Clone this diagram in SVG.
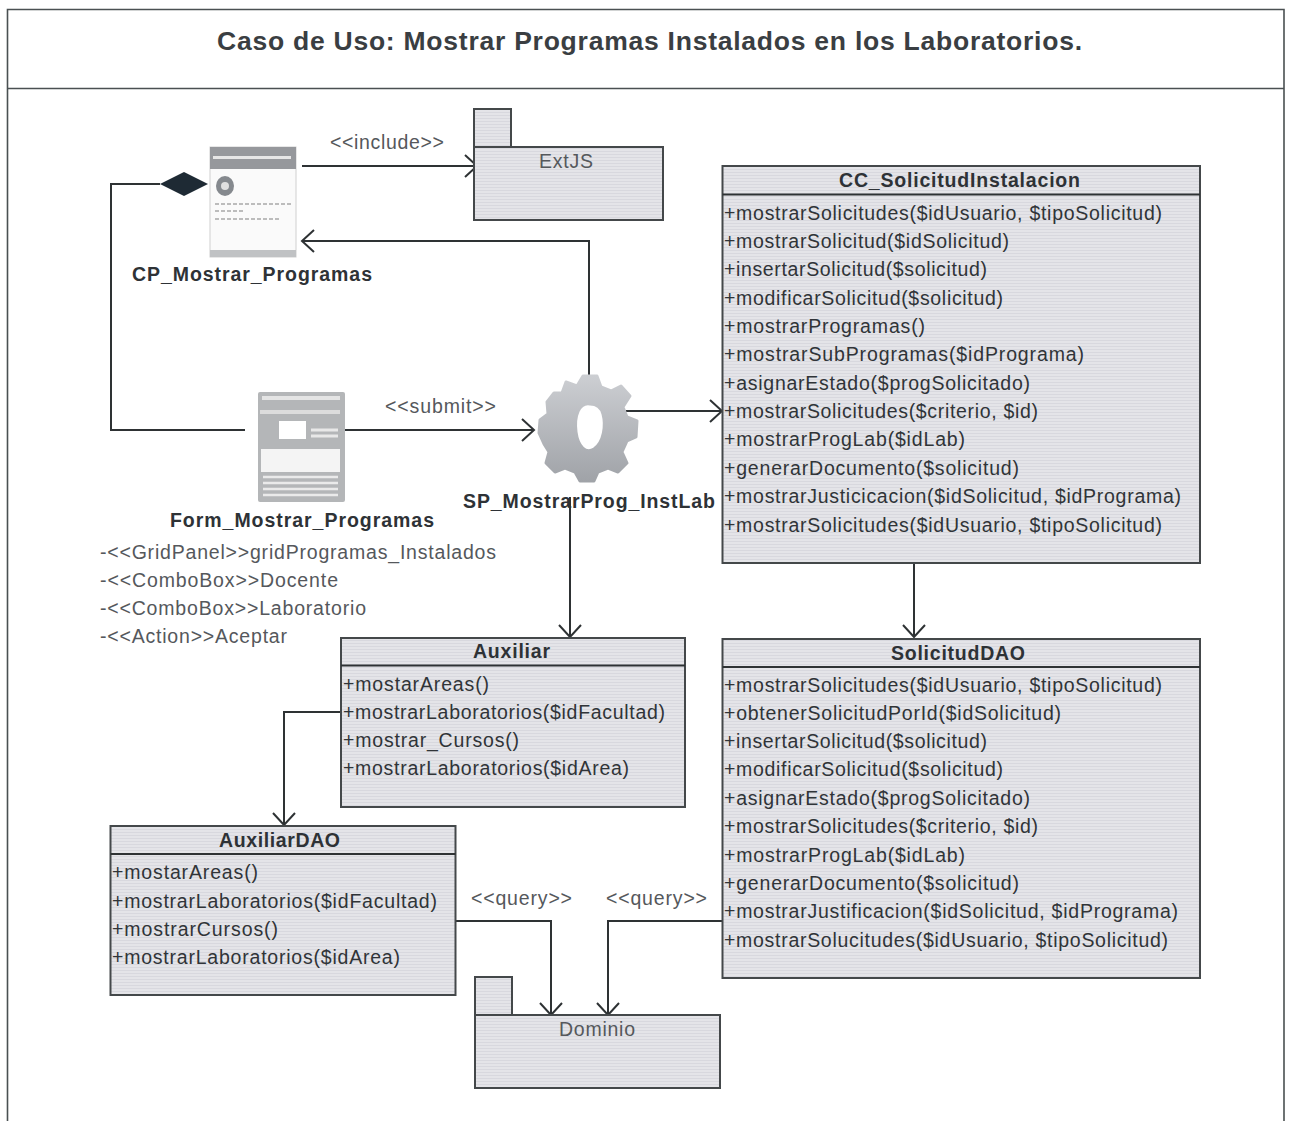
<svg xmlns="http://www.w3.org/2000/svg" width="1293" height="1121" viewBox="0 0 1293 1121">
<style>
text{font-family:"Liberation Sans",Arial,sans-serif;fill:#303438;font-size:19.5px}
.b{font-weight:bold;fill:#2e3236}
.l{fill:#55585c}
.box{fill:url(#hatch);stroke:#44484a;stroke-width:2}
.conn{fill:none;stroke:#2e3234;stroke-width:2}
.arr{marker-end:url(#open)}
.frame{fill:none;stroke:#4a5052;stroke-width:1.6}
</style>
<defs>
<pattern id="hatch" width="4" height="3" patternUnits="userSpaceOnUse">
<rect width="4" height="3" fill="#e4e4e8"/><rect y="1" width="4" height="1" fill="#d8d8de"/>
</pattern>
<marker id="open" markerUnits="userSpaceOnUse" markerWidth="28" markerHeight="32" refX="23" refY="15" orient="auto" overflow="visible">
<path d="M11 4L23 15L11 26" fill="none" stroke="#2e3234" stroke-width="2"/>
</marker>
<linearGradient id="gear" x1="0" y1="0" x2="0" y2="1">
<stop offset="0" stop-color="#ccced2"/><stop offset="1" stop-color="#a0a3a8"/>
</linearGradient>
</defs>
<rect width="1293" height="1121" fill="#fff"/>
<g id="frame">
<path class="frame" d="M7.5 1121V9.5H1284V1121"/>
<path class="frame" d="M7.5 88.500H1284"/>
<text x="217" y="50" style="font-size:26.500px;font-weight:bold;fill:#3a3e42" textLength="865" lengthAdjust="spacing">Caso de Uso: Mostrar Programas Instalados en los Laboratorios.</text>
</g>
<g id="connectors">
<path class="conn arr" d="M302 166H477"/>
<path class="conn arr" d="M589 380V241H302" />
<path class="conn" d="M245 430H111V184H160"/>
<path class="conn arr" d="M345 430H534"/>
<path class="conn arr" d="M626 411H722"/>
<path class="conn arr" d="M570 497V637"/>
<path class="conn arr" d="M914 563V637"/>
<path class="conn arr" d="M341 712H284V825"/>
<path class="conn arr" d="M455 921H551V1015"/>
<path class="conn arr" d="M722 921H608V1015"/>
<path d="M160 184L184 172L208 184L184 196Z" fill="#1e2a34"/>
<text class="l" x="330" y="149" textLength="114" lengthAdjust="spacing">&lt;&lt;include&gt;&gt;</text>
<text class="l" x="385" y="413" textLength="111" lengthAdjust="spacing">&lt;&lt;submit&gt;&gt;</text>
<text class="l" x="471" y="905" textLength="101" lengthAdjust="spacing">&lt;&lt;query&gt;&gt;</text>
<text class="l" x="606" y="905" textLength="101" lengthAdjust="spacing">&lt;&lt;query&gt;&gt;</text>
</g>
<g id="CP_Mostrar_Programas">
<rect x="210" y="147" width="86" height="110" fill="#fafafa" stroke="#d0d0d0"/>
<rect x="210" y="147" width="86" height="22" fill="#96989c"/>
<rect x="213" y="156" width="78" height="3" fill="#e6e6e6"/>
<rect x="210" y="250" width="86" height="7" fill="#c0c2c4"/>
<ellipse cx="225" cy="186" rx="9" ry="10" fill="#85898e"/>
<ellipse cx="225" cy="186" rx="4" ry="4" fill="#e0e0e0"/>
<path d="M215 204H292M215 211H245M215 219H280" stroke="#bcbcbc" stroke-width="2" stroke-dasharray="4 2" fill="none"/>
<text class="b" x="132" y="281" textLength="240" lengthAdjust="spacing">CP_Mostrar_Programas</text>
</g>
<g id="Form_Mostrar_Programas">
<rect x="258" y="392" width="87" height="110" rx="2" fill="#b4b6b8"/>
<rect x="262" y="396" width="78" height="4" fill="#e4e4e4"/>
<rect x="260" y="410" width="80" height="4" fill="#dcdcdc"/>
<rect x="279" y="421" width="27" height="18" fill="#fff"/>
<path d="M311 430H338M311 436H338" stroke="#e8e8e8" stroke-width="3" fill="none"/>
<rect x="261" y="449" width="79" height="23" fill="#f4f4f4"/>
<path d="M263 477H338M263 483H338M263 489H338M263 495H338" stroke="#eaeaea" stroke-width="2.500" fill="none"/>
<text class="b" x="170" y="527" textLength="264" lengthAdjust="spacing">Form_Mostrar_Programas</text>
<text class="l" x="100" y="559" textLength="396" lengthAdjust="spacing">-&lt;&lt;GridPanel&gt;&gt;gridProgramas_Instalados</text>
<text class="l" x="100" y="587" textLength="238" lengthAdjust="spacing">-&lt;&lt;ComboBox&gt;&gt;Docente</text>
<text class="l" x="100" y="615" textLength="266" lengthAdjust="spacing">-&lt;&lt;ComboBox&gt;&gt;Laboratorio</text>
<text class="l" x="100" y="643" textLength="187" lengthAdjust="spacing">-&lt;&lt;Action&gt;&gt;Aceptar</text>
</g>
<g id="SP_MostrarProg_InstLab">
<path fill-rule="evenodd" fill="url(#gear)" stroke="url(#gear)" stroke-width="3" stroke-linejoin="round" d="M566 382L577 386L583 376L597 376L601 387L611 391L621 386L630 396L623 407L627 417L637 421L636 437L627 441L622 452L627 463L618 472L608 468L598 472L594 481L580 481L575 472L565 468L555 472L546 463L549 452L544 444L539 433L540 420L548 414L547 402L554 393L562 393ZM590 404C579 402 574 416 576 432C578 447 586 454 594 449C604 442 606 425 603 414C601 407 596 404 590 404Z"/>
<text class="b" x="463" y="508" textLength="252" lengthAdjust="spacing">SP_MostrarProg_InstLab</text>
</g>
<g id="ExtJS">
<rect class="box" x="474" y="109" width="37" height="38"/>
<rect class="box" x="474" y="147" width="189" height="73"/>
<text class="l" x="539" y="168" textLength="54" lengthAdjust="spacing">ExtJS</text>
</g>
<g id="CC_SolicitudInstalacion">
<rect class="box" x="722.500" y="166" width="477.500" height="397"/>
<path class="conn" d="M722.500 194.500H1200"/>
<text class="b" x="839" y="187" textLength="241" lengthAdjust="spacing">CC_SolicitudInstalacion</text>
<text x="724" y="220" textLength="438" lengthAdjust="spacing">+mostrarSolicitudes($idUsuario, $tipoSolicitud)</text>
<text x="724" y="248" textLength="285" lengthAdjust="spacing">+mostrarSolicitud($idSolicitud)</text>
<text x="724" y="276" textLength="263" lengthAdjust="spacing">+insertarSolicitud($solicitud)</text>
<text x="724" y="305" textLength="279" lengthAdjust="spacing">+modificarSolicitud($solicitud)</text>
<text x="724" y="333" textLength="201" lengthAdjust="spacing">+mostrarProgramas()</text>
<text x="724" y="361" textLength="360" lengthAdjust="spacing">+mostrarSubProgramas($idPrograma)</text>
<text x="724" y="390" textLength="306" lengthAdjust="spacing">+asignarEstado($progSolicitado)</text>
<text x="724" y="418" textLength="314" lengthAdjust="spacing">+mostrarSolicitudes($criterio, $id)</text>
<text x="724" y="446" textLength="241" lengthAdjust="spacing">+mostrarProgLab($idLab)</text>
<text x="724" y="475" textLength="295" lengthAdjust="spacing">+generarDocumento($solicitud)</text>
<text x="724" y="503" textLength="457" lengthAdjust="spacing">+mostrarJusticicacion($idSolicitud, $idPrograma)</text>
<text x="724" y="532" textLength="438" lengthAdjust="spacing">+mostrarSolicitudes($idUsuario, $tipoSolicitud)</text>
</g>
<g id="Auxiliar">
<rect class="box" x="341" y="638" width="344" height="169"/>
<path class="conn" d="M341 665.500H685"/>
<text class="b" x="473" y="658" textLength="77" lengthAdjust="spacing">Auxiliar</text>
<text x="343" y="691" textLength="146" lengthAdjust="spacing">+mostarAreas()</text>
<text x="343" y="719" textLength="322" lengthAdjust="spacing">+mostrarLaboratorios($idFacultad)</text>
<text x="343" y="747" textLength="176" lengthAdjust="spacing">+mostrar_Cursos()</text>
<text x="343" y="775" textLength="286" lengthAdjust="spacing">+mostrarLaboratorios($idArea)</text>
</g>
<g id="SolicitudDAO">
<rect class="box" x="722.500" y="639" width="477.500" height="339"/>
<path class="conn" d="M722.500 667H1200"/>
<text class="b" x="891" y="660" textLength="134" lengthAdjust="spacing">SolicitudDAO</text>
<text x="724" y="692" textLength="438" lengthAdjust="spacing">+mostrarSolicitudes($idUsuario, $tipoSolicitud)</text>
<text x="724" y="720" textLength="337" lengthAdjust="spacing">+obtenerSolicitudPorId($idSolicitud)</text>
<text x="724" y="748" textLength="263" lengthAdjust="spacing">+insertarSolicitud($solicitud)</text>
<text x="724" y="776" textLength="279" lengthAdjust="spacing">+modificarSolicitud($solicitud)</text>
<text x="724" y="805" textLength="306" lengthAdjust="spacing">+asignarEstado($progSolicitado)</text>
<text x="724" y="833" textLength="314" lengthAdjust="spacing">+mostrarSolicitudes($criterio, $id)</text>
<text x="724" y="862" textLength="241" lengthAdjust="spacing">+mostrarProgLab($idLab)</text>
<text x="724" y="890" textLength="295" lengthAdjust="spacing">+generarDocumento($solicitud)</text>
<text x="724" y="918" textLength="454" lengthAdjust="spacing">+mostrarJustificacion($idSolicitud, $idPrograma)</text>
<text x="724" y="947" textLength="444" lengthAdjust="spacing">+mostrarSolucitudes($idUsuario, $tipoSolicitud)</text>
</g>
<g id="AuxiliarDAO">
<rect class="box" x="110.500" y="826" width="345" height="169"/>
<path class="conn" d="M110.500 854H455.500"/>
<text class="b" x="219" y="847" textLength="121" lengthAdjust="spacing">AuxiliarDAO</text>
<text x="112" y="879" textLength="146" lengthAdjust="spacing">+mostarAreas()</text>
<text x="112" y="908" textLength="325" lengthAdjust="spacing">+mostrarLaboratorios($idFacultad)</text>
<text x="112" y="936" textLength="166" lengthAdjust="spacing">+mostrarCursos()</text>
<text x="112" y="964" textLength="288" lengthAdjust="spacing">+mostrarLaboratorios($idArea)</text>
</g>
<g id="Dominio">
<rect class="box" x="475" y="977" width="37" height="38"/>
<rect class="box" x="475" y="1015" width="245" height="73"/>
<text class="l" x="559" y="1036" textLength="76" lengthAdjust="spacing">Dominio</text>
</g>
</svg>
